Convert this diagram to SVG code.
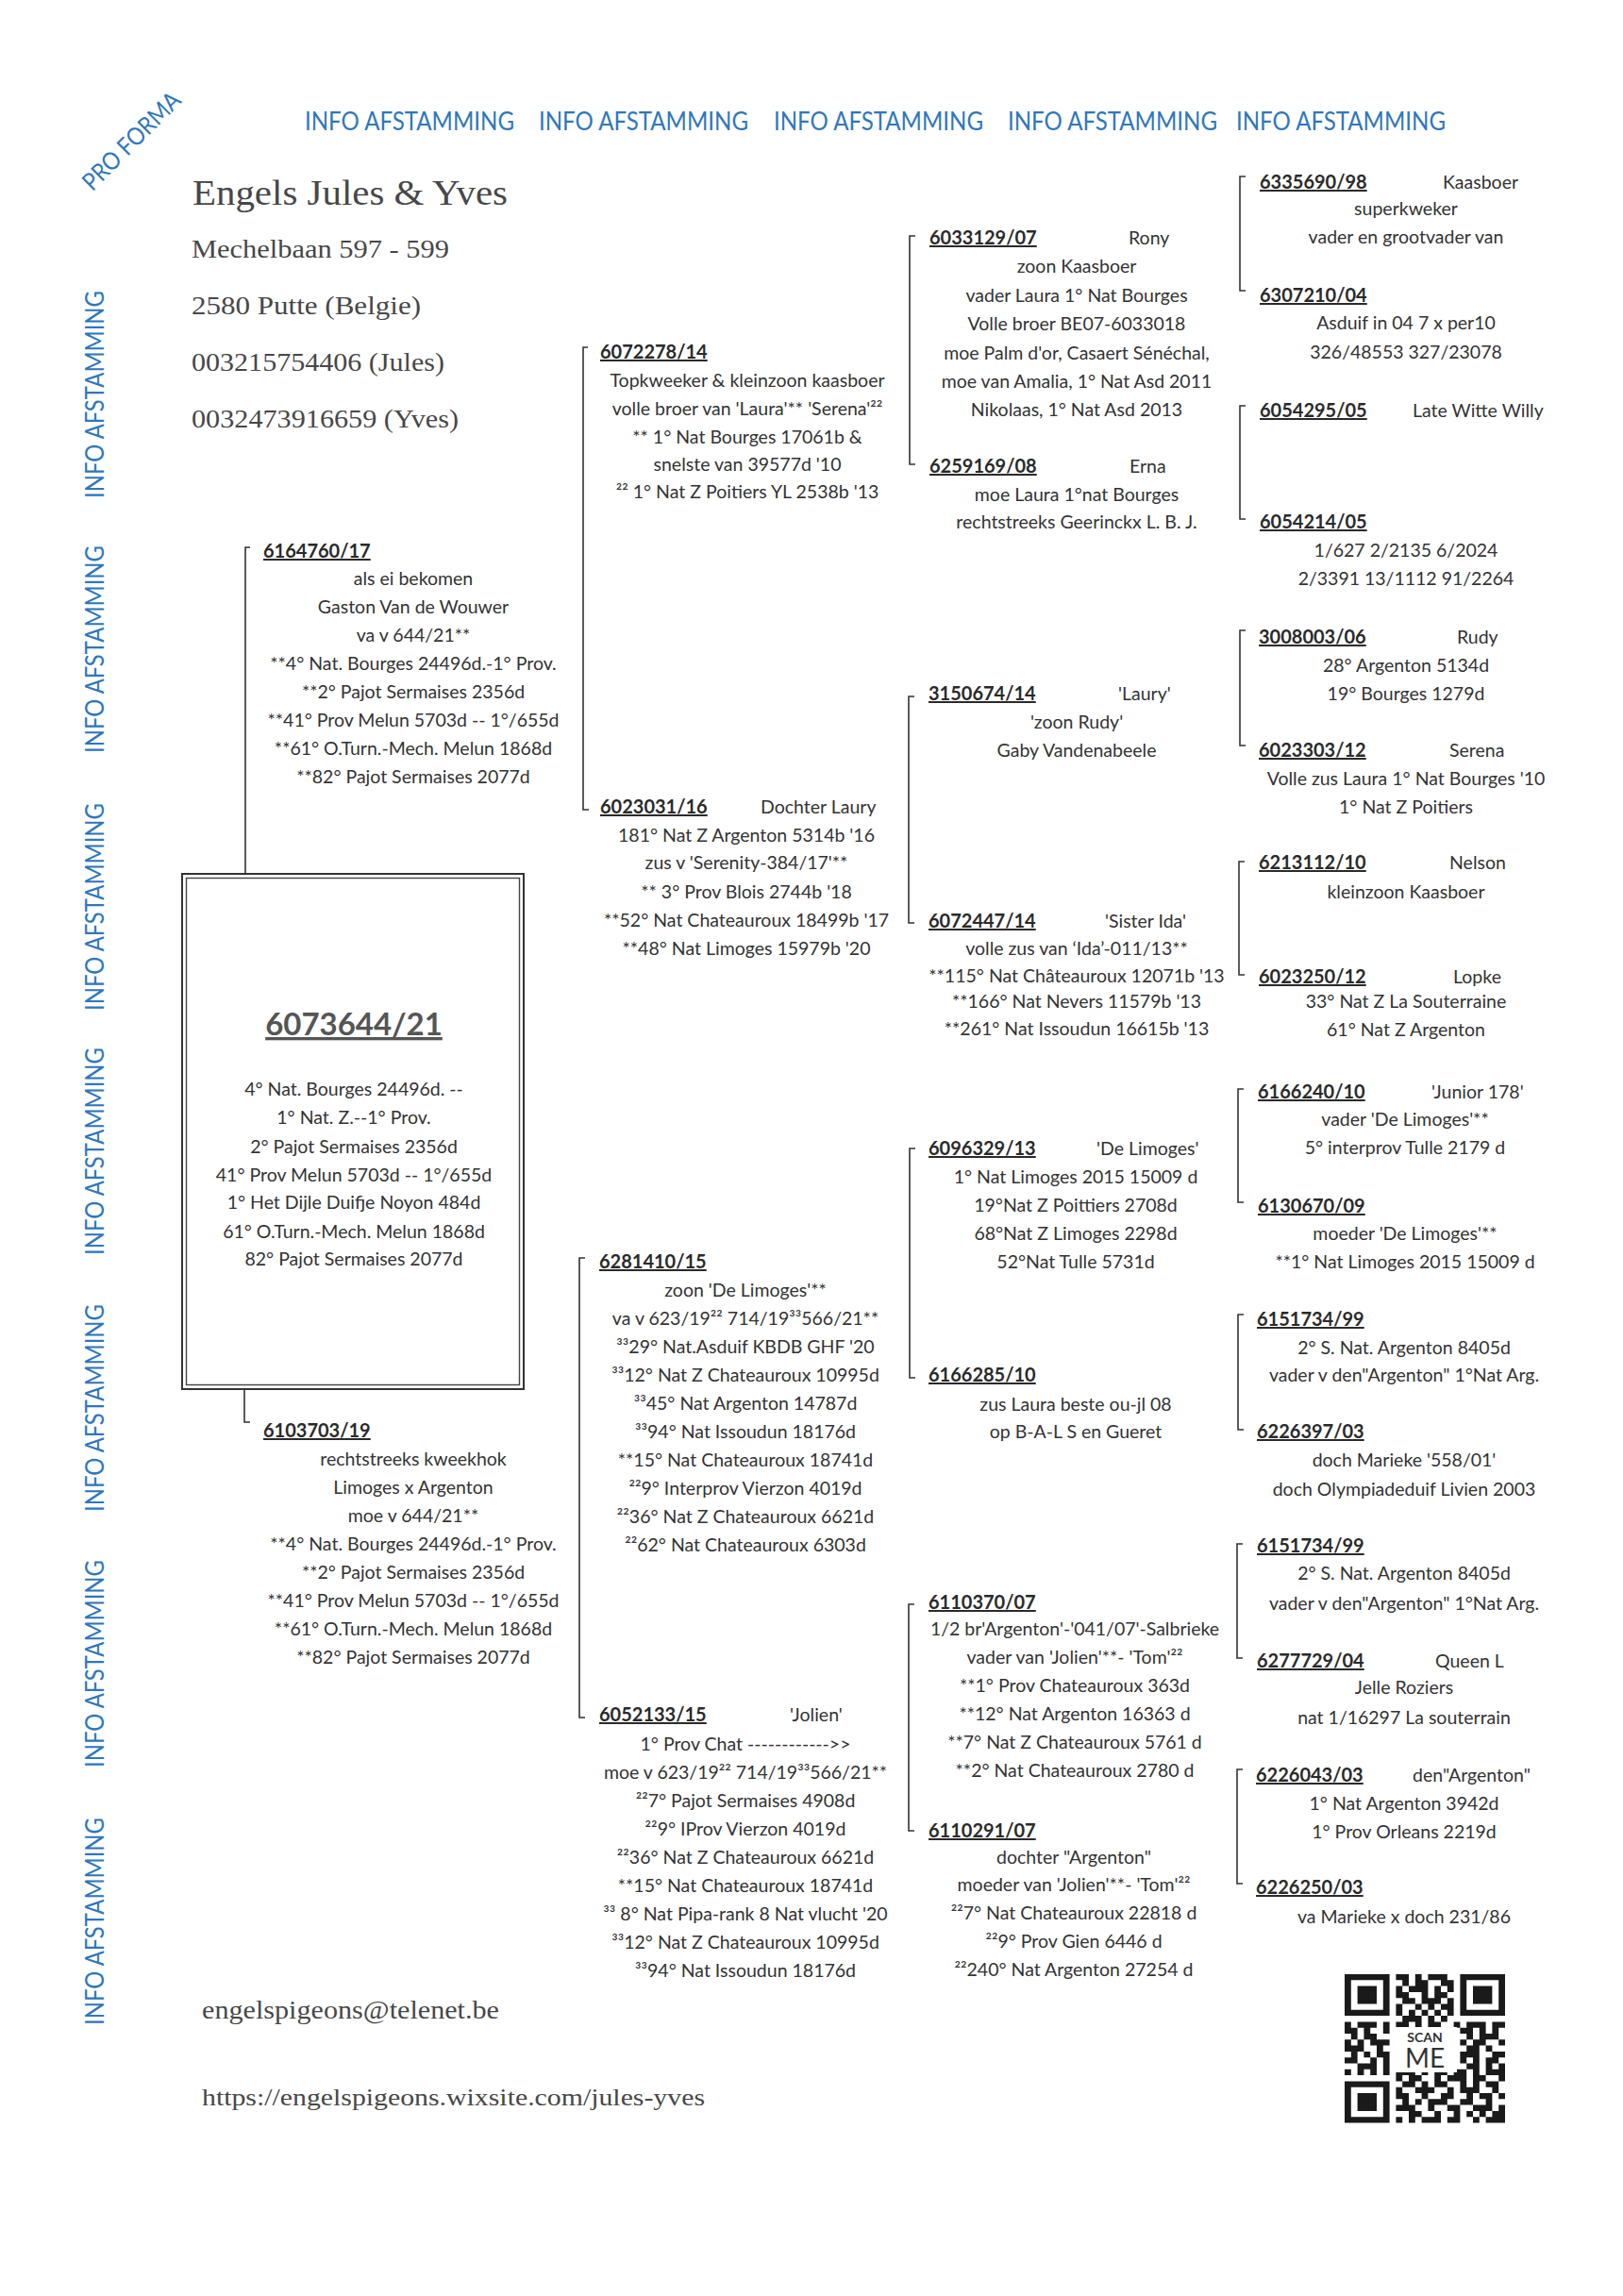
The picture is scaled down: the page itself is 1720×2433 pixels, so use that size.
<svg xmlns="http://www.w3.org/2000/svg" width="1720" height="2433" viewBox="0 0 1720 2433" xml:space="preserve">
<style>
.bg{fill:#ffffff}
.t{font-family:Lato,"Liberation Sans",sans-serif;font-size:19.5px;fill:#333;text-anchor:middle}
.h{font-family:Lato,"Liberation Sans",sans-serif;font-size:20px;font-weight:700;fill:#2a2a2a;text-decoration:underline}
.n{font-family:Lato,"Liberation Sans",sans-serif;font-size:19.5px;fill:#333}
.blue{font-family:Lato,"Liberation Sans",sans-serif;font-size:26px;fill:#2f77bb}
.bv{font-family:Lato,"Liberation Sans",sans-serif;font-size:26px;fill:#2f77bb;text-anchor:middle}
.serif{font-family:"Liberation Serif","DejaVu Serif",serif;fill:#474747}
.br{fill:none;stroke:#333;stroke-width:1.6}
.title{font-family:Lato,"Liberation Sans",sans-serif;font-size:33px;font-weight:700;fill:#555;text-anchor:middle;text-decoration:underline}
</style>
<rect class="bg" x="0" y="0" width="1720" height="2433"/>
<g id="header">
<text class="blue" transform="translate(140 150) rotate(-45)" text-anchor="middle" y="8" font-size="22" textLength="135" lengthAdjust="spacingAndGlyphs">PRO FORMA</text>
<text class="blue" x="323" y="138" textLength="222" lengthAdjust="spacingAndGlyphs">INFO AFSTAMMING</text>
<text class="blue" x="571" y="138" textLength="222" lengthAdjust="spacingAndGlyphs">INFO AFSTAMMING</text>
<text class="blue" x="820" y="138" textLength="222" lengthAdjust="spacingAndGlyphs">INFO AFSTAMMING</text>
<text class="blue" x="1068" y="138" textLength="222" lengthAdjust="spacingAndGlyphs">INFO AFSTAMMING</text>
<text class="blue" x="1310" y="138" textLength="222" lengthAdjust="spacingAndGlyphs">INFO AFSTAMMING</text>
<text class="bv" transform="translate(110 418) rotate(-90)" textLength="220" lengthAdjust="spacingAndGlyphs">INFO AFSTAMMING</text>
<text class="bv" transform="translate(110 688) rotate(-90)" textLength="220" lengthAdjust="spacingAndGlyphs">INFO AFSTAMMING</text>
<text class="bv" transform="translate(110 961) rotate(-90)" textLength="220" lengthAdjust="spacingAndGlyphs">INFO AFSTAMMING</text>
<text class="bv" transform="translate(110 1220) rotate(-90)" textLength="220" lengthAdjust="spacingAndGlyphs">INFO AFSTAMMING</text>
<text class="bv" transform="translate(110 1492) rotate(-90)" textLength="220" lengthAdjust="spacingAndGlyphs">INFO AFSTAMMING</text>
<text class="bv" transform="translate(110 1763) rotate(-90)" textLength="220" lengthAdjust="spacingAndGlyphs">INFO AFSTAMMING</text>
<text class="bv" transform="translate(110 2036) rotate(-90)" textLength="220" lengthAdjust="spacingAndGlyphs">INFO AFSTAMMING</text>
<text class="serif" x="204" y="217" font-size="37" textLength="334" lengthAdjust="spacingAndGlyphs">Engels Jules &amp; Yves</text>
<text class="serif" x="203" y="273" font-size="28" textLength="273" lengthAdjust="spacingAndGlyphs">Mechelbaan 597 - 599</text>
<text class="serif" x="203" y="333" font-size="28" textLength="243" lengthAdjust="spacingAndGlyphs">2580 Putte  (Belgie)</text>
<text class="serif" x="203" y="393" font-size="28" textLength="268" lengthAdjust="spacingAndGlyphs">003215754406 (Jules)</text>
<text class="serif" x="203" y="453" font-size="28" textLength="283" lengthAdjust="spacingAndGlyphs">0032473916659 (Yves)</text>
<text class="serif" x="214" y="2139" font-size="28" textLength="315" lengthAdjust="spacingAndGlyphs">engelspigeons@telenet.be</text>
<text class="serif" x="214" y="2231" font-size="26" textLength="533" lengthAdjust="spacingAndGlyphs">https://engelspigeons.wixsite.com/jules-yves</text>
</g>
<g id="connectors">
<path class="br" d="M265 580H260V926"/>
<path class="br" d="M259 1472V1507H265"/>
<path class="br" d="M623 368H618V858H624"/>
<path class="br" d="M620 1333H614V1820H620"/>
<path class="br" d="M970 250H964V492H970"/>
<path class="br" d="M969 738H963V978H969"/>
<path class="br" d="M970 1217H964V1460H970"/>
<path class="br" d="M969 1700H963V1940H969"/>
<path class="br" d="M1320 187H1314V308H1320"/>
<path class="br" d="M1320 430H1314V550H1320"/>
<path class="br" d="M1320 668H1314V790H1320"/>
<path class="br" d="M1319 913H1313V1033H1319"/>
<path class="br" d="M1318 1154H1312V1274H1318"/>
<path class="br" d="M1318 1393H1312V1515H1318"/>
<path class="br" d="M1317 1636H1311V1757H1317"/>
<path class="br" d="M1317 1875H1311V1996H1317"/>
</g>
<g id="main-6073644-21">
<rect x="193" y="926" width="362" height="546" fill="none" stroke="#333" stroke-width="2"/>
<rect x="197.5" y="930.5" width="353" height="537" fill="none" stroke="#444" stroke-width="1.4"/>
<text class="title" x="375" y="1097">6073644/21</text>
<text class="t" x="375" y="1161">4° Nat. Bourges  24496d. --</text>
<text class="t" x="375" y="1191">1° Nat. Z.--1° Prov.</text>
<text class="t" x="375" y="1222">2° Pajot Sermaises 2356d</text>
<text class="t" x="375" y="1252">41° Prov Melun 5703d -- 1°/655d</text>
<text class="t" x="375" y="1281">1° Het Dijle Duifje  Noyon 484d</text>
<text class="t" x="375" y="1312">61° O.Turn.-Mech. Melun 1868d</text>
<text class="t" x="375" y="1341">82° Pajot Sermaises 2077d</text>
</g>
<g id="n-6164760-17">
<text class="h" x="279" y="591">6164760/17</text>
<text class="t" x="438" y="620">als ei bekomen</text>
<text class="t" x="438" y="650">Gaston Van de Wouwer</text>
<text class="t" x="438" y="680">va v 644/21**</text>
<text class="t" x="438" y="710">**4° Nat. Bourges  24496d.-1° Prov.</text>
<text class="t" x="438" y="740">**2° Pajot Sermaises 2356d</text>
<text class="t" x="438" y="770">**41° Prov Melun 5703d -- 1°/655d</text>
<text class="t" x="438" y="800">**61° O.Turn.-Mech. Melun 1868d</text>
<text class="t" x="438" y="830">**82° Pajot Sermaises 2077d</text>
</g>
<g id="n-6103703-19">
<text class="h" x="279" y="1523">6103703/19</text>
<text class="t" x="438" y="1553">rechtstreeks kweekhok</text>
<text class="t" x="438" y="1583">Limoges x Argenton</text>
<text class="t" x="438" y="1613">moe v 644/21**</text>
<text class="t" x="438" y="1643">**4° Nat. Bourges  24496d.-1° Prov.</text>
<text class="t" x="438" y="1673">**2° Pajot Sermaises 2356d</text>
<text class="t" x="438" y="1703">**41° Prov Melun 5703d -- 1°/655d</text>
<text class="t" x="438" y="1733">**61° O.Turn.-Mech. Melun 1868d</text>
<text class="t" x="438" y="1763">**82° Pajot Sermaises 2077d</text>
</g>
<g id="n-6072278-14">
<text class="h" x="636" y="380">6072278/14</text>
<text class="t" x="792" y="410">Topkweeker &amp; kleinzoon kaasboer</text>
<text class="t" x="792" y="440">volle broer van 'Laura'** 'Serena'²²</text>
<text class="t" x="792" y="470">** 1° Nat Bourges 17061b &amp;</text>
<text class="t" x="792" y="499">snelste van 39577d '10</text>
<text class="t" x="792" y="528">²² 1° Nat Z Poitiers YL 2538b '13</text>
</g>
<g id="n-6023031-16">
<text class="h" x="636" y="862">6023031/16</text>
<text class="n" x="806" y="862">Dochter Laury</text>
<text class="t" x="791" y="892">181° Nat Z Argenton 5314b '16</text>
<text class="t" x="791" y="921">zus v 'Serenity-384/17'**</text>
<text class="t" x="791" y="952">** 3° Prov Blois 2744b '18</text>
<text class="t" x="791" y="982">**52° Nat Chateauroux 18499b '17</text>
<text class="t" x="791" y="1012">**48° Nat Limoges 15979b '20</text>
</g>
<g id="n-6281410-15">
<text class="h" x="635" y="1344">6281410/15</text>
<text class="t" x="790" y="1374">zoon 'De Limoges'**</text>
<text class="t" x="790" y="1404">va v 623/19²² 714/19³³566/21**</text>
<text class="t" x="790" y="1434">³³29° Nat.Asduif KBDB GHF '20</text>
<text class="t" x="790" y="1464">³³12° Nat Z Chateauroux 10995d</text>
<text class="t" x="790" y="1494">³³45° Nat Argenton 14787d</text>
<text class="t" x="790" y="1524">³³94° Nat Issoudun 18176d</text>
<text class="t" x="790" y="1554">**15° Nat Chateauroux 18741d</text>
<text class="t" x="790" y="1584">²²9° Interprov Vierzon 4019d</text>
<text class="t" x="790" y="1614">²²36° Nat Z Chateauroux 6621d</text>
<text class="t" x="790" y="1644">²²62° Nat Chateauroux 6303d</text>
</g>
<g id="n-6052133-15">
<text class="h" x="635" y="1824">6052133/15</text>
<text class="n" x="837" y="1824">'Jolien'</text>
<text class="t" x="790" y="1855">1° Prov Chat  ------------&gt;&gt;</text>
<text class="t" x="790" y="1885">moe v 623/19²² 714/19³³566/21**</text>
<text class="t" x="790" y="1915">²²7° Pajot Sermaises 4908d</text>
<text class="t" x="790" y="1945">²²9° IProv Vierzon 4019d</text>
<text class="t" x="790" y="1975">²²36° Nat Z Chateauroux 6621d</text>
<text class="t" x="790" y="2005">**15° Nat Chateauroux 18741d</text>
<text class="t" x="790" y="2035">³³ 8° Nat Pipa-rank 8 Nat vlucht '20</text>
<text class="t" x="790" y="2065">³³12° Nat Z Chateauroux 10995d</text>
<text class="t" x="790" y="2095">³³94° Nat Issoudun 18176d</text>
</g>
<g id="n-6033129-07">
<text class="h" x="985" y="259">6033129/07</text>
<text class="n" x="1196" y="259">Rony</text>
<text class="t" x="1141" y="289">zoon Kaasboer</text>
<text class="t" x="1141" y="320">vader Laura 1° Nat Bourges</text>
<text class="t" x="1141" y="350">Volle broer BE07-6033018</text>
<text class="t" x="1141" y="381">moe Palm d'or, Casaert Sénéchal,</text>
<text class="t" x="1141" y="411">moe van Amalia, 1° Nat Asd 2011</text>
<text class="t" x="1141" y="441">Nikolaas, 1° Nat Asd 2013</text>
</g>
<g id="n-6259169-08">
<text class="h" x="985" y="501">6259169/08</text>
<text class="n" x="1197" y="501">Erna</text>
<text class="t" x="1141" y="531">moe Laura 1°nat Bourges</text>
<text class="t" x="1141" y="560">rechtstreeks Geerinckx L. B. J.</text>
</g>
<g id="n-3150674-14">
<text class="h" x="984" y="742">3150674/14</text>
<text class="n" x="1185" y="742">'Laury'</text>
<text class="t" x="1141" y="772">'zoon Rudy'</text>
<text class="t" x="1141" y="802">Gaby Vandenabeele</text>
</g>
<g id="n-6072447-14">
<text class="h" x="984" y="983">6072447/14</text>
<text class="n" x="1171" y="983">'Sister Ida'</text>
<text class="t" x="1141" y="1012">volle zus van ‘Ida’-011/13**</text>
<text class="t" x="1141" y="1041">**115° Nat Châteauroux 12071b '13</text>
<text class="t" x="1141" y="1068">**166° Nat Nevers 11579b '13</text>
<text class="t" x="1141" y="1097">**261° Nat Issoudun 16615b '13</text>
</g>
<g id="n-6096329-13">
<text class="h" x="984" y="1224">6096329/13</text>
<text class="n" x="1162" y="1224">'De Limoges'</text>
<text class="t" x="1140" y="1254">1° Nat Limoges 2015  15009 d</text>
<text class="t" x="1140" y="1284">19°Nat Z Poittiers 2708d</text>
<text class="t" x="1140" y="1314">68°Nat Z Limoges 2298d</text>
<text class="t" x="1140" y="1344">52°Nat Tulle 5731d</text>
</g>
<g id="n-6166285-10">
<text class="h" x="984" y="1464">6166285/10</text>
<text class="t" x="1140" y="1495">zus Laura beste ou-jl 08</text>
<text class="t" x="1140" y="1524">op B-A-L S en Gueret</text>
</g>
<g id="n-6110370-07">
<text class="h" x="984" y="1705">6110370/07</text>
<text class="t" x="1139" y="1733">1/2 br'Argenton'-'041/07'-Salbrieke</text>
<text class="t" x="1139" y="1763">vader van 'Jolien'**- 'Tom'²²</text>
<text class="t" x="1139" y="1793">**1° Prov Chateauroux 363d</text>
<text class="t" x="1139" y="1823">**12° Nat Argenton 16363 d</text>
<text class="t" x="1139" y="1853">**7° Nat Z Chateauroux 5761 d</text>
<text class="t" x="1139" y="1883">**2° Nat Chateauroux 2780 d</text>
</g>
<g id="n-6110291-07">
<text class="h" x="984" y="1947">6110291/07</text>
<text class="t" x="1138" y="1975">dochter "Argenton"</text>
<text class="t" x="1138" y="2004">moeder van 'Jolien'**- 'Tom'²²</text>
<text class="t" x="1138" y="2034">²²7° Nat Chateauroux 22818 d</text>
<text class="t" x="1138" y="2064">²²9° Prov Gien 6446 d</text>
<text class="t" x="1138" y="2094">²²240° Nat Argenton 27254 d</text>
</g>
<g id="n-6335690-98">
<text class="h" x="1335" y="200">6335690/98</text>
<text class="n" x="1529" y="200">Kaasboer</text>
<text class="t" x="1490" y="228">superkweker</text>
<text class="t" x="1490" y="258">vader en grootvader van</text>
</g>
<g id="n-6307210-04">
<text class="h" x="1335" y="320">6307210/04</text>
<text class="t" x="1490" y="349">Asduif in 04 7 x per10</text>
<text class="t" x="1490" y="380">326/48553 327/23078</text>
</g>
<g id="n-6054295-05">
<text class="h" x="1335" y="442">6054295/05</text>
<text class="n" x="1497" y="442">Late Witte Willy</text>
</g>
<g id="n-6054214-05">
<text class="h" x="1335" y="560">6054214/05</text>
<text class="t" x="1490" y="590">1/627 2/2135 6/2024</text>
<text class="t" x="1490" y="620">2/3391 13/1112 91/2264</text>
</g>
<g id="n-3008003-06">
<text class="h" x="1334" y="682">3008003/06</text>
<text class="n" x="1544" y="682">Rudy</text>
<text class="t" x="1490" y="712">28° Argenton 5134d</text>
<text class="t" x="1490" y="742">19° Bourges 1279d</text>
</g>
<g id="n-6023303-12">
<text class="h" x="1334" y="802">6023303/12</text>
<text class="n" x="1536" y="802">Serena</text>
<text class="t" x="1490" y="832">Volle zus Laura 1° Nat Bourges '10</text>
<text class="t" x="1490" y="862">1° Nat Z Poitiers</text>
</g>
<g id="n-6213112-10">
<text class="h" x="1334" y="921">6213112/10</text>
<text class="n" x="1536" y="921">Nelson</text>
<text class="t" x="1490" y="952">kleinzoon Kaasboer</text>
</g>
<g id="n-6023250-12">
<text class="h" x="1334" y="1042">6023250/12</text>
<text class="n" x="1540" y="1042">Lopke</text>
<text class="t" x="1490" y="1068">33° Nat Z La Souterraine</text>
<text class="t" x="1490" y="1098">61° Nat Z Argenton</text>
</g>
<g id="n-6166240-10">
<text class="h" x="1333" y="1164">6166240/10</text>
<text class="n" x="1517" y="1164">'Junior 178'</text>
<text class="t" x="1489" y="1193">vader 'De Limoges'**</text>
<text class="t" x="1489" y="1223">5° interprov Tulle 2179 d</text>
</g>
<g id="n-6130670-09">
<text class="h" x="1333" y="1285">6130670/09</text>
<text class="t" x="1489" y="1314">moeder  'De Limoges'**</text>
<text class="t" x="1489" y="1344">**1° Nat Limoges 2015  15009 d</text>
</g>
<g id="n-6151734-99-a">
<text class="h" x="1332" y="1405">6151734/99</text>
<text class="t" x="1488" y="1435">2° S. Nat. Argenton 8405d</text>
<text class="t" x="1488" y="1464">vader v den"Argenton" 1°Nat Arg.</text>
</g>
<g id="n-6226397-03">
<text class="h" x="1332" y="1524">6226397/03</text>
<text class="t" x="1488" y="1554">doch Marieke '558/01'</text>
<text class="t" x="1488" y="1585">doch Olympiadeduif Livien 2003</text>
</g>
<g id="n-6151734-99-b">
<text class="h" x="1332" y="1645">6151734/99</text>
<text class="t" x="1488" y="1674">2° S. Nat. Argenton 8405d</text>
<text class="t" x="1488" y="1706">vader v den"Argenton" 1°Nat Arg.</text>
</g>
<g id="n-6277729-04">
<text class="h" x="1332" y="1767">6277729/04</text>
<text class="n" x="1521" y="1767">Queen L</text>
<text class="t" x="1488" y="1795">Jelle Roziers</text>
<text class="t" x="1488" y="1827">nat 1/16297 La souterrain</text>
</g>
<g id="n-6226043-03">
<text class="h" x="1331" y="1888">6226043/03</text>
<text class="n" x="1497" y="1888">den"Argenton"</text>
<text class="t" x="1488" y="1918">1° Nat Argenton 3942d</text>
<text class="t" x="1488" y="1948">1° Prov Orleans 2219d</text>
</g>
<g id="n-6226250-03">
<text class="h" x="1331" y="2007">6226250/03</text>
<text class="t" x="1488" y="2038">va Marieke x doch 231/86</text>
</g>
<g id="qr-code">
<g transform="translate(1425 2092) scale(6.8 6.3)" fill="#1a1a1a">
<path d="M0 0h7v7h-7z M1 1v5h5v-5z M2 2h3v3h-3z" fill-rule="evenodd"/>
<path d="M18 0h7v7h-7z M19 1v5h5v-5z M20 2h3v3h-3z" fill-rule="evenodd"/>
<path d="M0 18h7v7h-7z M1 19v5h5v-5z M2 20h3v3h-3z" fill-rule="evenodd"/>
<path d="M8 0h2v1h-2z M11 0h1v1h-1z M13 0h3v1h-3z M9 1h1v1h-1z M11 1h2v1h-2z M15 1h2v1h-2z M8 2h1v1h-1z M10 2h3v1h-3z M14 2h1v1h-1z M16 2h1v1h-1z M8 3h2v1h-2z M12 3h1v1h-1z M14 3h2v1h-2z M9 4h2v1h-2z M12 4h3v1h-3z M16 4h1v1h-1z M8 5h1v1h-1z M11 5h1v1h-1z M13 5h1v1h-1z M15 5h2v1h-2z M8 6h1v1h-1z M10 6h1v1h-1z M12 6h1v1h-1z M14 6h1v1h-1z M16 6h1v1h-1z M9 7h3v1h-3z M13 7h1v1h-1z M15 7h1v1h-1z M0 8h1v1h-1z M2 8h3v1h-3z M6 8h1v1h-1z M8 8h2v1h-2z M11 8h1v1h-1z M13 8h2v1h-2z M17 8h1v1h-1z M19 8h3v1h-3z M23 8h2v1h-2z M0 9h2v1h-2z M3 9h1v1h-1z M6 9h1v1h-1z M18 9h2v1h-2z M21 9h1v1h-1z M23 9h1v1h-1z M1 10h1v1h-1z M3 10h2v1h-2z M19 10h1v1h-1z M21 10h3v1h-3z M0 11h1v1h-1z M2 11h1v1h-1z M4 11h3v1h-3z M18 11h1v1h-1z M20 11h2v1h-2z M24 11h1v1h-1z M0 12h3v1h-3z M5 12h1v1h-1z M19 12h2v1h-2z M22 12h1v1h-1z M1 13h1v1h-1z M3 13h1v1h-1z M5 13h2v1h-2z M18 13h3v1h-3z M23 13h2v1h-2z M0 14h2v1h-2z M4 14h1v1h-1z M6 14h1v1h-1z M18 14h1v1h-1z M20 14h1v1h-1z M22 14h2v1h-2z M2 15h3v1h-3z M6 15h1v1h-1z M19 15h2v1h-2z M22 15h1v1h-1z M24 15h1v1h-1z M0 16h1v1h-1z M2 16h1v1h-1z M4 16h1v1h-1z M6 16h1v1h-1z M8 16h3v1h-3z M12 16h1v1h-1z M14 16h2v1h-2z M17 16h2v1h-2z M20 16h1v1h-1z M22 16h3v1h-3z M8 17h1v1h-1z M10 17h2v1h-2z M14 17h1v1h-1z M16 17h3v1h-3z M20 17h2v1h-2z M24 17h1v1h-1z M9 18h2v1h-2z M12 18h1v1h-1z M14 18h2v1h-2z M18 18h1v1h-1z M20 18h1v1h-1z M22 18h2v1h-2z M8 19h1v1h-1z M11 19h3v1h-3z M16 19h1v1h-1z M18 19h3v1h-3z M23 19h1v1h-1z M8 20h2v1h-2z M12 20h1v1h-1z M15 20h2v1h-2z M19 20h1v1h-1z M21 20h2v1h-2z M24 20h1v1h-1z M9 21h1v1h-1z M11 21h1v1h-1z M13 21h3v1h-3z M18 21h2v1h-2z M22 21h1v1h-1z M8 22h3v1h-3z M13 22h1v1h-1z M16 22h2v1h-2z M20 22h3v1h-3z M24 22h1v1h-1z M10 23h2v1h-2z M14 23h1v1h-1z M17 23h1v1h-1z M19 23h1v1h-1z M21 23h1v1h-1z M23 23h2v1h-2z M8 24h1v1h-1z M10 24h1v1h-1z M12 24h3v1h-3z M16 24h2v1h-2z M20 24h1v1h-1z M22 24h3v1h-3z"/>
</g>
<rect x="1476" y="2148" width="68" height="48" fill="#ffffff"/>
<text x="1510" y="2164" font-family="Lato,'Liberation Sans',sans-serif" font-size="14" font-weight="700" fill="#333" text-anchor="middle">SCAN</text>
<text x="1510" y="2191" font-family="Lato,'Liberation Sans',sans-serif" font-size="28" fill="#333" text-anchor="middle">ME</text>
</g>
</svg>
